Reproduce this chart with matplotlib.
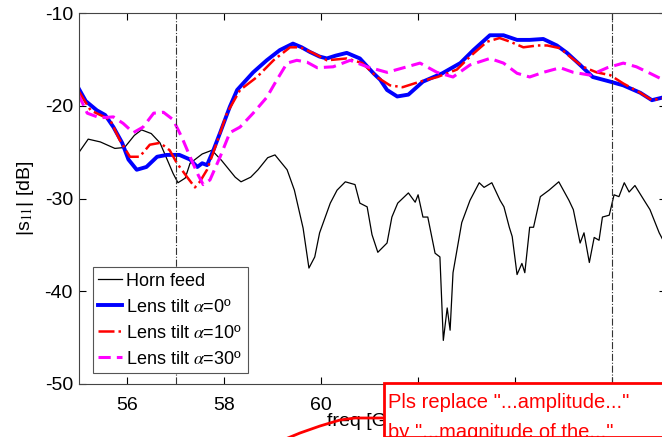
import matplotlib
matplotlib.use("Agg")
import matplotlib.pyplot as plt
from matplotlib.lines import Line2D
from matplotlib.patches import Rectangle

plt.rcParams['font.family'] = ['Liberation Sans', 'DejaVu Sans']
plt.rcParams['mathtext.fontset'] = 'stix'
plt.rcParams['axes.unicode_minus'] = False

# Horn feed
horn_f = [55.0, 55.2, 55.45, 55.75, 55.95, 56.15, 56.3, 56.5, 56.68, 56.95, 57.05, 57.2,
          57.3, 57.55, 57.75, 57.95, 58.23, 58.35, 58.55, 58.7, 58.9, 59.05, 59.3, 59.45,
          59.63, 59.75, 59.87, 59.97, 60.19, 60.33, 60.5, 60.7, 60.8, 60.95, 61.05, 61.17,
          61.36, 61.46, 61.58, 61.8, 61.94, 62.0, 62.1, 62.2, 62.35, 62.45, 62.52, 62.6,
          62.66, 62.72, 62.9, 63.07, 63.26, 63.36, 63.52, 63.69, 63.77, 63.88, 63.94, 64.04,
          64.14, 64.2, 64.3, 64.38, 64.52, 64.7, 64.9, 65.11, 65.2, 65.34, 65.42, 65.53,
          65.63, 65.73, 65.8, 65.94, 66.04, 66.14, 66.25, 66.35, 66.47, 66.66, 66.78, 66.97, 67.05]
horn_db = [-25.1, -23.6, -23.9, -24.6, -24.5, -23.2, -22.6, -23.0, -24.0, -27.3, -28.3, -27.8,
           -26.2, -25.2, -24.8, -25.9, -27.7, -28.2, -27.7, -26.9, -25.6, -25.3, -26.9, -29.1,
           -33.2, -37.5, -36.3, -33.7, -30.5, -29.1, -28.2, -28.5, -30.5, -30.9, -33.9, -35.8,
           -34.8, -32.0, -30.5, -29.4, -30.4, -29.6, -32.0, -32.0, -35.9, -36.3, -45.3, -41.8,
           -44.2, -38.0, -32.6, -30.2, -28.3, -28.8, -28.3, -30.2, -30.9, -33.1, -34.1, -38.2,
           -37.0, -38.0, -33.1, -33.1, -29.8, -29.1, -28.2, -30.2, -31.2, -34.8, -33.7, -36.9,
           -34.2, -34.5, -32.0, -31.8, -29.6, -29.8, -28.3, -29.3, -28.6, -30.2, -31.2, -33.7, -34.5]

# Lens tilt 0 deg
lens0_f = [55.0, 55.15, 55.38, 55.55, 55.72, 55.9, 56.03, 56.2, 56.4, 56.62, 56.82, 57.08,
           57.3, 57.45, 57.55, 57.65, 57.78, 57.92, 58.12, 58.27, 58.6, 58.88, 59.15, 59.42,
           59.6, 59.77, 59.97, 60.12, 60.3, 60.53, 60.8, 61.08, 61.22, 61.36, 61.57, 61.8,
           62.1, 62.5, 62.87, 63.14, 63.48, 63.76, 64.04, 64.3, 64.58, 64.86, 65.07, 65.34,
           65.6, 65.96, 66.23, 66.58, 66.82, 67.05]
lens0_db = [-18.1, -19.5, -20.5, -21.0, -22.3, -24.0, -25.8, -26.9, -26.6, -25.5, -25.3, -25.3,
            -25.8, -26.6, -26.2, -26.4, -24.8, -22.9, -20.1, -18.3, -16.4, -15.1, -14.0, -13.3,
            -13.7, -14.2, -14.7, -14.9, -14.6, -14.3, -14.9, -16.5, -17.2, -18.3, -19.0, -18.8,
            -17.4, -16.5, -15.4, -14.0, -12.4, -12.4, -12.9, -12.9, -12.8, -13.5, -14.3, -15.6,
            -16.9, -17.4, -17.8, -18.6, -19.4, -19.1]

# Lens tilt 10 deg
lens10_f = [55.0, 55.25, 55.65, 55.85, 56.06, 56.26, 56.47, 56.68, 56.88, 57.03, 57.24, 57.4,
            57.5, 57.65, 57.85, 58.06, 58.33, 58.68, 59.02, 59.36, 59.57, 59.83, 60.12, 60.53,
            60.85, 61.15, 61.42, 61.68, 62.04, 62.4, 62.8, 63.07, 63.42, 63.68, 63.9, 64.17,
            64.46, 64.66, 64.93, 65.13, 65.4, 65.68, 65.96, 66.23, 66.58, 66.82, 67.05]
lens10_db = [-18.4, -20.5, -21.5, -23.7, -25.5, -25.5, -24.2, -24.0, -24.8, -26.2, -27.7, -28.8,
             -28.2, -26.9, -24.0, -20.8, -18.3, -16.9, -15.1, -13.7, -13.7, -14.3, -15.1, -14.9,
             -15.4, -16.9, -17.8, -18.0, -17.4, -16.9, -16.1, -14.7, -13.1, -12.7, -13.1, -13.7,
             -13.5, -13.5, -13.8, -14.7, -15.8, -16.4, -16.7, -17.6, -18.6, -19.4, -19.2]

# Lens tilt 30 deg
lens30_f = [55.0, 55.18, 55.44, 55.72, 55.92, 56.13, 56.33, 56.55, 56.75, 56.95, 57.13, 57.3,
            57.47, 57.57, 57.71, 57.92, 58.12, 58.33, 58.6, 58.88, 59.09, 59.3, 59.5, 59.71,
            59.92, 60.25, 60.6, 60.95, 61.36, 61.77, 62.04, 62.39, 62.72, 63.07, 63.48, 63.76,
            64.04, 64.3, 64.58, 64.93, 65.2, 65.55, 65.9, 66.23, 66.5, 66.78, 67.05]
lens30_db = [-18.8, -20.8, -21.3, -21.2, -21.9, -22.9, -22.3, -20.8, -20.7, -21.5, -23.4, -25.5,
             -27.5, -28.5, -28.0, -25.5, -22.9, -22.3, -20.8, -19.1, -17.2, -15.4, -15.1, -15.3,
             -15.9, -15.8, -15.1, -15.8, -16.4, -15.8, -15.4, -16.4, -16.9, -15.6, -14.9, -15.4,
             -16.5, -16.9, -16.4, -15.9, -16.4, -16.7, -15.9, -15.4, -15.8, -16.5, -17.2]

markers_f = [57, 66]
xticks = [56, 58, 60, 62, 64, 66]
yticks = [-50, -40, -30, -20, -10]

W, H = 662, 437
fig = plt.figure(figsize=(W / 100, H / 100), dpi=100)
ax = fig.add_axes([78.5 / W, 53 / H, 587 / W, 371 / H])

ax.plot(horn_f, horn_db, color='black', lw=0.9, label='Horn feed')
ax.plot(lens0_f, lens0_db, color='#0000ff', lw=2.8, label=r'Lens tilt $\alpha$=0º')
ax.plot(lens10_f, lens10_db, color='#ff0000', lw=1.8, ls='-.', label=r'Lens tilt $\alpha$=10º')
ax.plot(lens30_f, lens30_db, color='#ff00ff', lw=2.2, ls=(0, (4, 2)), label=r'Lens tilt $\alpha$=30º')
for f in markers_f:
    ax.axvline(f, color='#333333', lw=0.8, ls='-.')

ax.set_xlim(55, 67.1)
ax.set_ylim(-50, -10)
ax.set_xticks(xticks)
ax.set_yticks(yticks)
ax.tick_params(direction='in', top=True, right=True, labelsize=14, length=5, width=0.8)
ax.tick_params(axis='x', pad=9)
ax.tick_params(axis='y', pad=4)
# labels under the comment box are hidden in the reference
for lbl in ax.get_xticklabels():
    if lbl.get_text() in ('62', '64', '66'):
        lbl.set_visible(False)
for s in ax.spines.values():
    s.set_color('#444444')
    s.set_linewidth(0.8)
ax.set_xlabel('freq [GHz]', fontsize=14, labelpad=0)
ax.set_ylabel(r'|s$_{11}$| [dB]', fontsize=14, labelpad=6)

leg = ax.legend(loc='lower left', bbox_to_anchor=(93 / W, (437 - 373) / H),
                bbox_transform=fig.transFigure, fontsize=13, handlelength=1.3,
                handletextpad=0.25, borderpad=0.3, labelspacing=0.5, borderaxespad=0,
                fancybox=False, framealpha=1, edgecolor='#555555')
leg.get_frame().set_linewidth(0.8)

# review comment overlay
fig.add_artist(Line2D([283 / W, 300 / W, 320 / W, 340 / W, 355 / W, 384 / W],
                      [1 - 440 / H, 1 - 433 / H, 1 - 426 / H, 1 - 420 / H, 1 - 418 / H, 1 - 418 / H],
                      color='red', lw=2, zorder=10))
fig.add_artist(Rectangle((384 / W, 0), 300 / W, (437 - 383) / H, transform=fig.transFigure,
                         facecolor='white', edgecolor='red', lw=2, zorder=11))
fig.text(388 / W, 1 - 402 / H, 'Pls replace "...amplitude..."', color='red', fontsize=14.5,
         va='center', zorder=12)
fig.text(388 / W, 1 - 433 / H, 'by "...magnitude of the..."', color='red', fontsize=14.5,
         va='center', zorder=12)

fig.savefig('out.png', dpi=100)
